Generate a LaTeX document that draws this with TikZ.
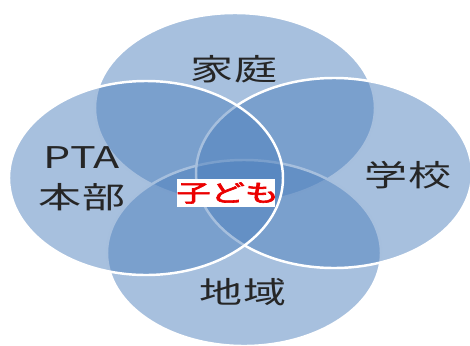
\documentclass[tikz,border=0pt]{standalone}
\usepackage{fontspec}
\newfontfamily\jpfont{Noto Sans CJK JP}[AutoFakeBold=2.5]
\usetikzlibrary{positioning}
\definecolor{ringblue}{RGB}{79,129,189}
\definecolor{kidred}{RGB}{235,0,0}
\tikzstyle{ring} = [
    fill=ringblue, 
    fill opacity=0.5, 
    draw=white, 
    line width=1.4pt
]
\tikzstyle{label_text} = [
    font=\jpfont\fontsize{17}{20}\selectfont, 
    text=black!85, 
    xscale=1.44, 
    inner sep=0pt
]
\tikzstyle{kid_box} = [
    fill=white, 
    text=kidred, 
    font=\jpfont\bfseries\fontsize{13.5}{15}\selectfont, 
    xscale=1.44, 
    inner sep=0pt, 
    minimum height=0.56cm, 
    text width=1.375cm, 
    align=center
]

\begin{document}
\begin{tikzpicture}[x=0.02cm, y=-0.02cm]
\useasboundingbox (0,0) rectangle (470,345);
% circles: top, bottom, right, left
\draw [ring] (235,108) ellipse [x radius=140, y radius=95];
\draw [ring] (244,253) ellipse [x radius=137, y radius=93];
\draw [ring] (334,173) ellipse [x radius=138, y radius=95];
\draw [ring] (146,178) ellipse [x radius=137, y radius=97];
% labels
\node [label_text] (home) at (234,69) {家庭};
\node [label_text] (school) at (408,175) {学校};
\node [label_text] (area) at (243,292) {地域};
\node [label_text] (pta) at (82,158) {PTA};
\node [label_text] (hq) at (82,197) {本部};
\node [kid_box] (kids) at (226,193) {子ども};
\end{tikzpicture}
\end{document}
